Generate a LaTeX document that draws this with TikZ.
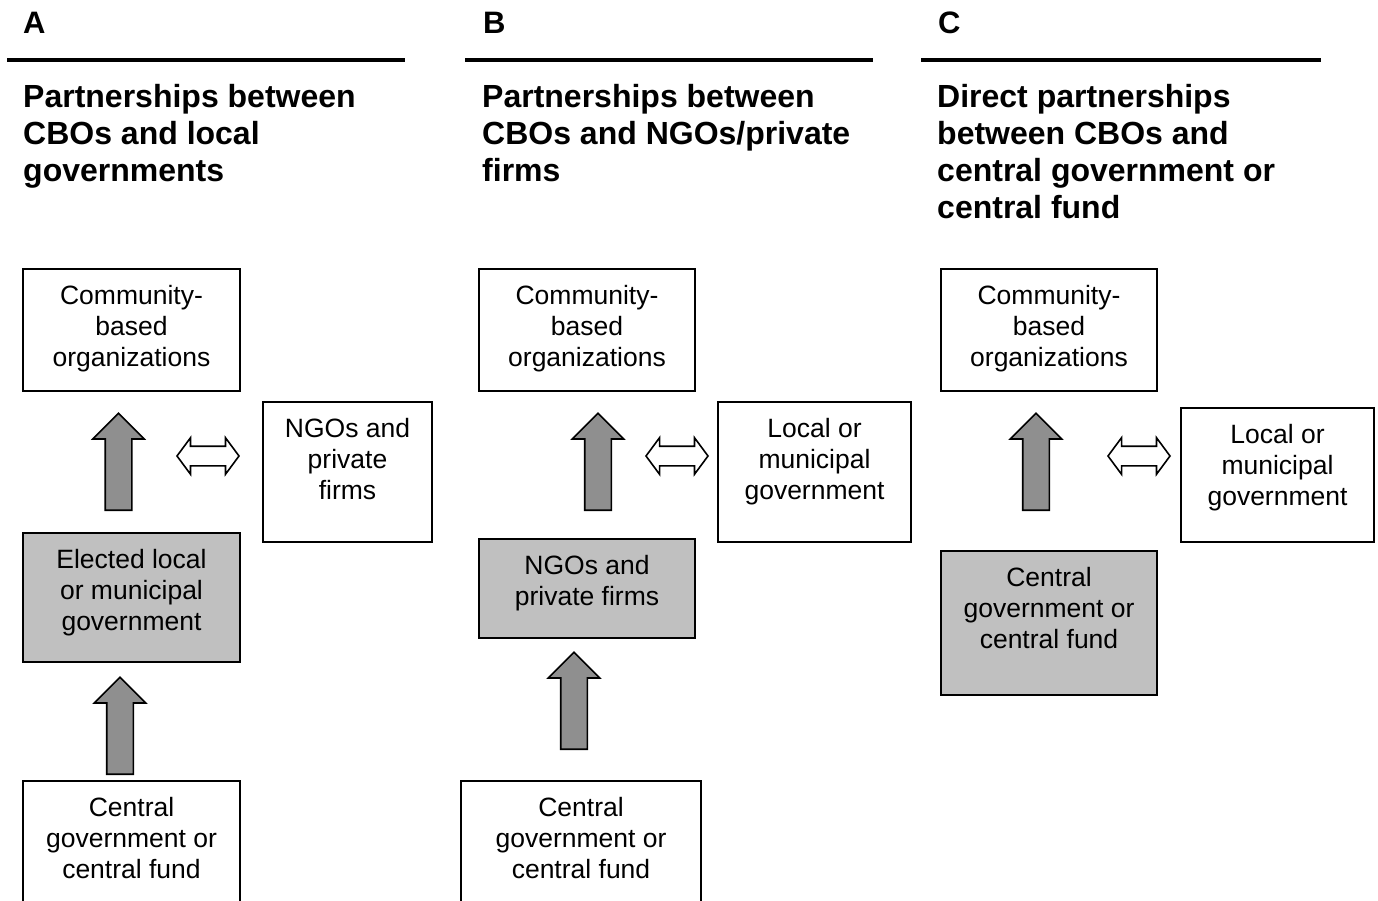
\documentclass[tikz,border=0pt]{standalone}
\usepackage{fontspec}
\setmainfont{Liberation Sans}
\usepackage{xcolor}
\usetikzlibrary{shapes.arrows, positioning}
\definecolor{boxgray}{RGB}{192,192,192}
\definecolor{arrowgray}{RGB}{143,143,143}

\begin{document}
\begin{tikzpicture}[x=1pt, y=-1pt,
    box/.style={draw, line width=2pt, anchor=north west, inner sep=0pt},
    shaded/.style={box, fill=boxgray},
    txt/.style={anchor=north, align=center, inner sep=0pt,
      font=\fontsize{26.5}{31}\selectfont},
    head/.style={anchor=north west, align=left, inner sep=0pt,
      font=\bfseries\fontsize{32}{37}\selectfont},
    panel/.style={anchor=base west, inner sep=0pt, font=\bfseries\fontsize{31}{37}\selectfont},
    rule/.style={line width=4pt},
    uparrow/.style={single arrow, draw, line width=1.6pt, fill=arrowgray, rotate=90,
      anchor=tail, minimum height=97pt, inner xsep=0pt, inner ysep=12.5pt,
      single arrow head extend=12.5pt, single arrow tip angle=90},
    duoarrow/.style={double arrow, draw, line width=1.6pt, fill=white,
      minimum height=62pt, inner xsep=0pt, inner ysep=9pt,
      double arrow head extend=8.5pt, double arrow tip angle=107}]
  \useasboundingbox (0,0) rectangle (1378,901);
  \clip (0,0) rectangle (1378,901);
  \node[panel] (labA) at (23,34) {A};
  \node[panel] (labB) at (483,34) {B};
  \node[panel] (labC) at (938,34) {C};
  \foreach \a/\b in {7/405, 465/873, 921/1321} \draw[rule] (\a,60) -- (\b,60);
  \node[head] (titleA) at (23,84) {Partnerships between\\CBOs and local\\governments};
  \node[head] (titleB) at (482,84) {Partnerships between\\CBOs and NGOs/private\\firms};
  \node[head] (titleC) at (937,84) {Direct partnerships\\between CBOs and\\central government or\\central fund};
  \node[box, minimum width=217pt, minimum height=122pt] (cboA) at (22,268) {};
  \node[box, minimum width=169pt, minimum height=140pt] (ngoA) at (262,401) {};
  \node[shaded, minimum width=217pt, minimum height=129pt] (elecA) at (22,532) {};
  \node[box, minimum width=217pt, minimum height=150pt] (centA) at (22,780) {};
  \node[box, minimum width=216pt, minimum height=122pt] (cboB) at (478,268) {};
  \node[box, minimum width=193pt, minimum height=140pt] (locB) at (717,401) {};
  \node[shaded, minimum width=216pt, minimum height=99pt] (ngoB) at (478,538) {};
  \node[box, minimum width=240pt, minimum height=150pt] (centB) at (460,780) {};
  \node[box, minimum width=216pt, minimum height=122pt] (cboC) at (940,268) {};
  \node[box, minimum width=193pt, minimum height=134pt] (locC) at (1180,407) {};
  \node[shaded, minimum width=216pt, minimum height=144pt] (centC) at (940,550) {};
  \node[txt] (cboAtext) at ([yshift=-17.5pt]cboA.north) {Community-\\based\\organizations};
  \node[txt] (ngoAtext) at ([yshift=-17.5pt]ngoA.north) {NGOs and\\private\\firms};
  \node[txt] (elecAtext) at ([yshift=-17.5pt]elecA.north) {Elected local\\or municipal\\government};
  \node[txt] (centAtext) at ([yshift=-17.5pt]centA.north) {Central\\government or\\central fund};
  \node[txt] (cboBtext) at ([yshift=-17.5pt]cboB.north) {Community-\\based\\organizations};
  \node[txt] (locBtext) at ([yshift=-17.5pt]locB.north) {Local or\\municipal\\government};
  \node[txt] (ngoBtext) at ([yshift=-17.5pt]ngoB.north) {NGOs and\\private firms};
  \node[txt] (centBtext) at ([yshift=-17.5pt]centB.north) {Central\\government or\\central fund};
  \node[txt] (cboCtext) at ([yshift=-17.5pt]cboC.north) {Community-\\based\\organizations};
  \node[txt] (locCtext) at ([yshift=-17.5pt]locC.north) {Local or\\municipal\\government};
  \node[txt] (centCtext) at ([yshift=-17.5pt]centC.north) {Central\\government or\\central fund};
  \node[uparrow] (upA1) at (118.5,511) {};
  \node[uparrow] (upA2) at (120,775) {};
  \node[uparrow] (upB1) at (598,511) {};
  \node[uparrow] (upB2) at (574,750) {};
  \node[uparrow] (upC1) at (1036,511) {};
  \node[duoarrow] (duoA) at (208,456) {};
  \node[duoarrow] (duoB) at (677,456) {};
  \node[duoarrow] (duoC) at (1139,456) {};
\end{tikzpicture}
\end{document}
